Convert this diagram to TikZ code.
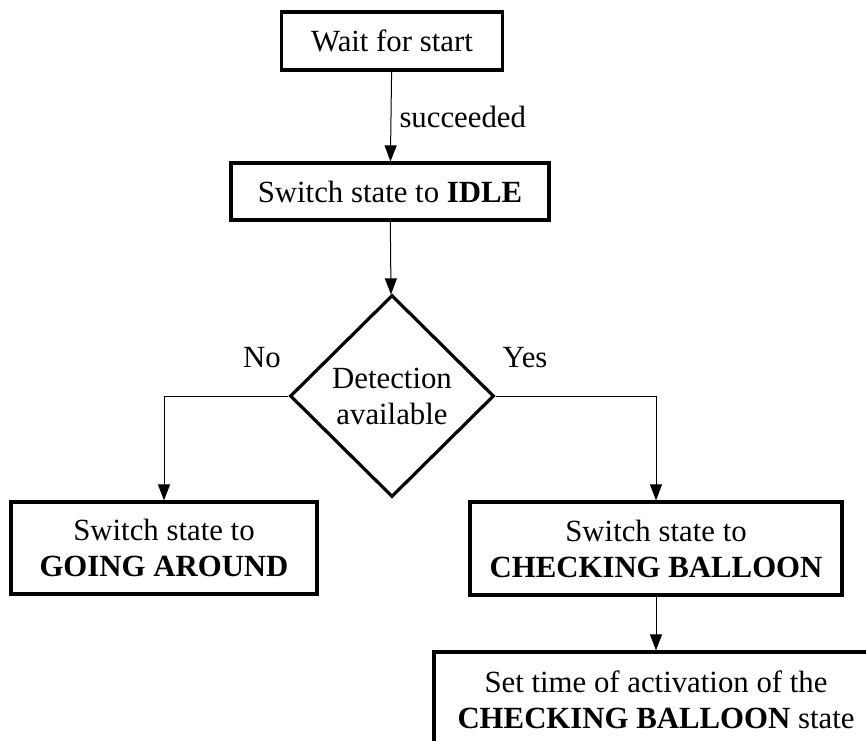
\documentclass[tikz,border=0pt]{standalone}
\usepackage{fontspec}
\setmainfont{Liberation Serif}
\usetikzlibrary{shapes.geometric,arrows.meta}

\begin{document}
\begin{tikzpicture}[x=0.5pt,y=-0.5pt,
  txt/.style={font=\fontsize{15.4}{18}\selectfont},
  box/.style={txt, draw, line width=1.6pt, inner sep=0pt, align=center},
  decision/.style={txt, draw, diamond, line width=1.6pt, inner sep=0pt, align=center},
  flow/.style={line width=0.5pt, -{Triangle[length=8pt,width=6pt]}},
  lbl/.style={txt, inner sep=0pt}]
  \clip (0,0) rectangle (866,740);

  % states
  \node[box, minimum width=110.5pt, minimum height=29pt] (start) at (392,41) {Wait for start};
  \node[box, minimum width=159pt, minimum height=28.5pt] (idle) at (390,191.5) {Switch state to \textbf{IDLE}};
  \node[decision, minimum width=102pt, minimum height=101pt] (dec) at (392,396) {Detection\\available};
  \node[box, minimum width=153pt, minimum height=46pt] (around) at (164,548) {Switch state to\\\textbf{GOING AROUND}};
  \node[box, minimum width=186pt, minimum height=46.5pt] (check) at (656,548.5) {Switch state to\\\textbf{CHECKING BALLOON}};
  \node[box, minimum width=222pt, minimum height=48pt] (settime) at (656,700) {Set time of activation of the\\\textbf{CHECKING BALLOON} state};

  % transitions
  \draw[flow] (start) -- node[lbl, anchor=west, xshift=4pt] (succ) {succeeded} (idle);
  \draw[flow] (idle) -- (dec);
  \draw[flow] (dec.west) -| (around.north);
  \draw[flow] (dec.east) -| (check.north);
  \draw[flow] (check) -- (settime);

  % branch labels
  \node[lbl] (no) at (262,358) {No};
  \node[lbl] (yes) at (525,358) {Yes};
\end{tikzpicture}
\end{document}
